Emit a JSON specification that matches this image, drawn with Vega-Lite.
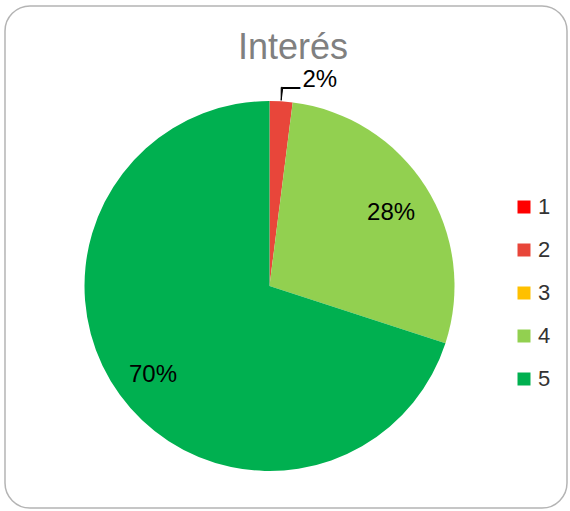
{
  "$schema": "https://vega.github.io/schema/vega-lite/v6.json",
  "width": 562,
  "height": 502,
  "autosize": "none",
  "padding": {"left": 5, "top": 6, "right": 3, "bottom": 3},
  "background": "white",
  "config": {
    "view": {"stroke": null},
    "font": "Liberation Sans"
  },
  "title": {
    "text": "Interés",
    "fontSize": 36,
    "fontWeight": "normal",
    "color": "#808080",
    "anchor": "middle",
    "frame": "group",
    "offset": -62,
    "dx": 7
  },
  "data": {
    "values": [
      {"k": "1", "v": 0},
      {"k": "2", "v": 0.02},
      {"k": "3", "v": 0},
      {"k": "4", "v": 0.28},
      {"k": "5", "v": 0.70}
    ]
  },
  "layer": [
    {
      "data": {"values": [{"box": 1}]},
      "mark": {"type": "rect", "fill": "white", "stroke": "#B4B4B4", "strokeWidth": 1.5, "cornerRadius": 25}
    },
    {
      "mark": {"type": "arc", "outerRadius": 185, "x": 264.5, "y": 280},
      "encoding": {
        "theta": {"field": "v", "type": "quantitative", "stack": true},
        "order": {"field": "k", "type": "ordinal"},
        "color": {
          "field": "k",
          "type": "nominal",
          "scale": {"domain": ["1", "2", "3", "4", "5"], "range": ["#FF0000", "#E8463A", "#FFC000", "#92D050", "#00B050"]},
          "legend": {
            "title": null,
            "orient": "none",
            "legendX": 508,
            "legendY": 190,
            "symbolType": "square",
            "symbolSize": 169,
            "symbolStrokeWidth": 0,
            "labelFontSize": 22,
            "labelColor": "#333333",
            "labelOffset": 3,
            "rowPadding": 21
          }
        }
      }
    },
    {
      "mark": {"type": "arc", "x": 264.5, "y": 280, "innerRadius": 186, "outerRadius": 199, "padAngle": 0.086, "fill": "black", "stroke": "black", "strokeWidth": 1},
      "encoding": {
        "theta": {"field": "v", "type": "quantitative", "stack": true},
        "order": {"field": "k", "type": "ordinal"},
        "opacity": {"condition": {"test": "datum.k == '2'", "value": 1}, "value": 0}
      }
    },
    {
      "mark": {"type": "text", "x": 264.5, "y": 280, "radius": 144, "fontSize": 24, "color": "black", "baseline": "middle", "align": "center", "dy": 4},
      "encoding": {
        "theta": {"field": "v", "type": "quantitative", "stack": true},
        "order": {"field": "k", "type": "ordinal"},
        "text": {"condition": {"test": "datum.v < 0.05", "value": ""}, "field": "v", "type": "quantitative", "format": ".0%"}
      }
    },
    {
      "mark": {"type": "text", "x": 264.5, "y": 280, "radius": 206, "fontSize": 24, "color": "black", "baseline": "middle", "align": "left", "dx": 20},
      "encoding": {
        "theta": {"field": "v", "type": "quantitative", "stack": true},
        "order": {"field": "k", "type": "ordinal"},
        "text": {"condition": {"test": "datum.k != '2'", "value": ""}, "field": "v", "type": "quantitative", "format": ".0%"}
      }
    },
    {
      "mark": {"type": "text", "x": 264.5, "y": 280, "radius": 206, "fontSize": 32, "color": "black", "baseline": "alphabetic", "align": "left", "dx": 0, "dy": 16},
      "encoding": {
        "theta": {"field": "v", "type": "quantitative", "stack": true},
        "order": {"field": "k", "type": "ordinal"},
        "text": {"condition": {"test": "datum.k != '2'", "value": ""}, "value": "–"}
      }
    }
  ]
}
